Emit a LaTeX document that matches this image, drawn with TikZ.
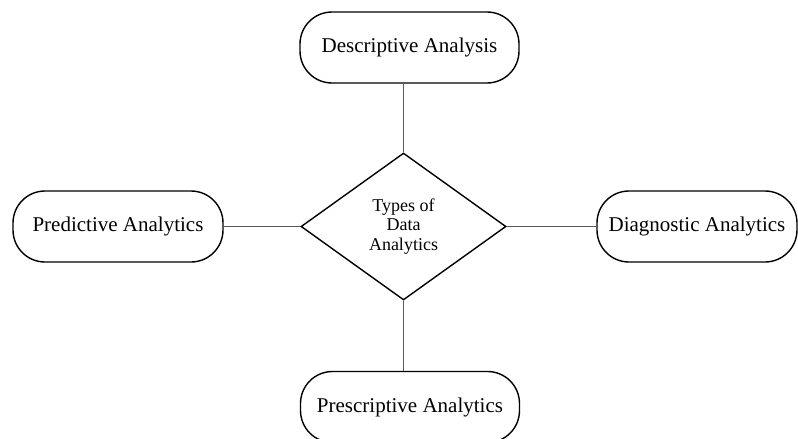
\documentclass[tikz,border=0pt]{standalone}
\usepackage{fontspec}
\setmainfont{Liberation Serif}
\usetikzlibrary{shapes.geometric}
\begin{document}
\begin{tikzpicture}[x=1pt,y=-1pt,
  pill/.style={draw=black, line width=1.4pt, rounded corners=32pt, minimum height=71pt, inner sep=0pt, font=\fontsize{21}{24}\selectfont, fill=white},
  hub/.style={draw=black, line width=1.4pt, shape=diamond, minimum width=205pt, minimum height=147pt, inner sep=0pt, align=center, font=\fontsize{18}{19.5}\selectfont},
  link/.style={draw=black!65, line width=1.1pt}]
\useasboundingbox[fill=white] (0,0) rectangle (798,439);
\node[hub] (d) at (403.5,226.5) {Types of\\Data\\Analytics};
\node[pill, minimum width=219pt] (top) at (409.5,47.5) {Descriptive Analysis};
\node[pill, minimum width=210pt] (left) at (118,226.5) {Predictive Analytics};
\node[pill, minimum width=200pt] (right) at (697,226.5) {Diagnostic Analytics};
\node[pill, minimum width=219pt] (bot) at (410,407) {Prescriptive Analytics};
\draw[link] (d.north) -- (d.north |- top.south);
\draw[link] (d.south) -- (d.south |- bot.north);
\draw[link] (d.west) -- (left.east);
\draw[link] (d.east) -- (right.west);
\end{tikzpicture}
\end{document}
